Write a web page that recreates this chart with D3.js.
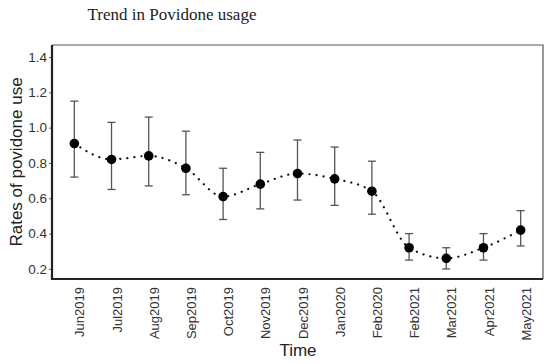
<!DOCTYPE html>
<html lang="en">

<head>
    <meta charset="UTF-8">
    <title>Trend in Povidone usage</title>
    <script src="https://d3js.org/d3.v7.min.js"></script>
    <style>
        body { margin: 0; background: #fff; }
    </style>
</head>

<body>
    <div id="container"></div>
    <script>
        // data
        var months = ["Jun2019", "Jul2019", "Aug2019", "Sep2019", "Oct2019", "Nov2019", "Dec2019",
            "Jan2020", "Feb2020", "Feb2021", "Mar2021", "Apr2021", "May2021"];
        var rates = [0.91, 0.82, 0.84, 0.77, 0.61, 0.68, 0.74, 0.71, 0.64, 0.32, 0.26, 0.32, 0.42];
        var upper = [1.15, 1.03, 1.06, 0.98, 0.77, 0.86, 0.93, 0.89, 0.81, 0.40, 0.32, 0.40, 0.53];
        var lower = [0.72, 0.65, 0.67, 0.62, 0.48, 0.54, 0.59, 0.56, 0.51, 0.25, 0.20, 0.25, 0.33];
        var yTicks = [0.2, 0.4, 0.6, 0.8, 1.0, 1.2, 1.4];

        var data = months.map(function (m, i) {
            return { month: m, rate: rates[i], hi: upper[i], lo: lower[i] };
        });

        var width = 550, height = 364;
        var pLeft = 52, pRight = 543, pTop = 45, pBottom = 279;

        var svg = d3.select("#container")
            .append("svg")
            .attr("width", width)
            .attr("height", height);

        var x = d3.scalePoint()
            .domain(months)
            .range([pLeft, pRight])
            .padding(0.6);

        var y = d3.scaleLinear()
            .domain([0.143, 1.468])
            .range([pBottom, pTop]);

        // title
        svg.append("text")
            .attr("x", 172)
            .attr("y", 20)
            .attr("text-anchor", "middle")
            .attr("font-family", "Liberation Serif, serif")
            .attr("font-size", 17)
            .attr("fill", "#222")
            .text("Trend in Povidone usage");

        // panel top and right border
        svg.append("path")
            .attr("d", "M" + pLeft + "," + pTop + "H" + pRight + "V" + pBottom)
            .attr("fill", "none")
            .attr("stroke", "#555")
            .attr("stroke-width", 1.2);

        // y axis
        var yAxis = svg.append("g")
            .attr("transform", "translate(" + pLeft + ",0)")
            .call(d3.axisLeft(y).tickValues(yTicks).tickFormat(d3.format(".1f")).tickSize(3).tickPadding(2));
        yAxis.select(".domain").remove();
        yAxis.selectAll("line").attr("stroke", "#666");
        yAxis.selectAll("text")
            .attr("font-family", "Liberation Sans, Arial, sans-serif")
            .attr("font-size", 13.5)
            .attr("fill", "#333");

        // x axis
        var xAxis = svg.append("g")
            .attr("transform", "translate(0," + pBottom + ")")
            .call(d3.axisBottom(x).tickSize(0).tickPadding(0));
        xAxis.select(".domain").remove();
        xAxis.selectAll("text")
            .attr("font-family", "Liberation Sans, Arial, sans-serif")
            .attr("font-size", 13)
            .attr("fill", "#333")
            .attr("text-anchor", "end")
            .attr("dy", "0.74em")
            .attr("transform", "translate(0,8) rotate(-90)")
            .attr("x", 0)
            .attr("y", 0);

        // axis lines (left and bottom, thicker)
        svg.append("path")
            .attr("d", "M" + pLeft + "," + pTop + "V" + pBottom + "H" + pRight)
            .attr("fill", "none")
            .attr("stroke", "#222")
            .attr("stroke-width", 2.2);

        // error bars
        var bars = svg.append("g").attr("stroke", "#555").attr("stroke-width", 1.3);
        bars.selectAll("line.v")
            .data(data)
            .enter()
            .append("line")
            .attr("class", "v")
            .attr("x1", (d) => x(d.month))
            .attr("x2", (d) => x(d.month))
            .attr("y1", (d) => y(d.lo))
            .attr("y2", (d) => y(d.hi));
        bars.selectAll("line.hi")
            .data(data)
            .enter()
            .append("line")
            .attr("class", "hi")
            .attr("x1", (d) => x(d.month) - 4)
            .attr("x2", (d) => x(d.month) + 4)
            .attr("y1", (d) => y(d.hi))
            .attr("y2", (d) => y(d.hi));
        bars.selectAll("line.lo")
            .data(data)
            .enter()
            .append("line")
            .attr("class", "lo")
            .attr("x1", (d) => x(d.month) - 4)
            .attr("x2", (d) => x(d.month) + 4)
            .attr("y1", (d) => y(d.lo))
            .attr("y2", (d) => y(d.lo));

        // dotted trend line
        var line = d3.line()
            .x((d) => x(d.month))
            .y((d) => y(d.rate))
            .curve(d3.curveMonotoneX);
        svg.append("path")
            .datum(data)
            .attr("d", line)
            .attr("fill", "none")
            .attr("stroke", "#111")
            .attr("stroke-width", 2.2)
            .attr("stroke-linecap", "round")
            .attr("stroke-dasharray", "0.1,7");

        // points
        svg.selectAll("circle")
            .data(data)
            .enter()
            .append("circle")
            .attr("cx", (d) => x(d.month))
            .attr("cy", (d) => y(d.rate))
            .attr("r", 4.8)
            .attr("fill", "#000");

        // axis titles
        svg.append("text")
            .attr("x", 298)
            .attr("y", 356)
            .attr("text-anchor", "middle")
            .attr("font-family", "Liberation Sans, Arial, sans-serif")
            .attr("font-size", 17)
            .attr("fill", "#222")
            .text("Time");

        svg.append("text")
            .attr("transform", "translate(22,162) rotate(-90)")
            .attr("text-anchor", "middle")
            .attr("font-family", "Liberation Sans, Arial, sans-serif")
            .attr("font-size", 17)
            .attr("fill", "#222")
            .text("Rates of povidone use");
    </script>
</body>

</html>
